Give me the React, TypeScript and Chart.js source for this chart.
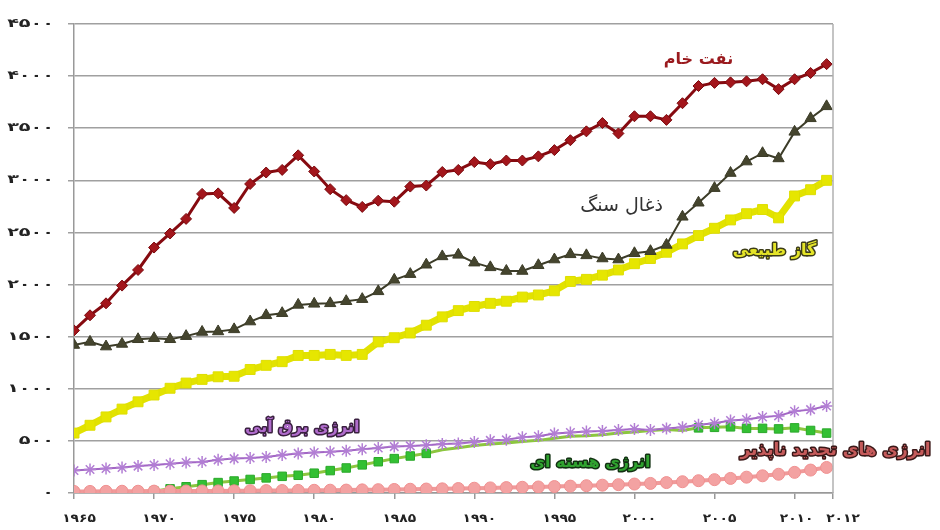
import React, { useEffect, useRef } from "react";
import { Chart, registerables } from "chart.js";

Chart.register(...registerables);

const years = [
  1965, 1966, 1967, 1968, 1969, 1970, 1971, 1972, 1973, 1974, 1975, 1976,
  1977, 1978, 1979, 1980, 1981, 1982, 1983, 1984, 1985, 1986, 1987, 1988,
  1989, 1990, 1991, 1992, 1993, 1994, 1995, 1996, 1997, 1998, 1999, 2000,
  2001, 2002, 2003, 2004, 2005, 2006, 2007, 2008, 2009, 2010, 2011, 2012,
];

const oil = [
  1560, 1705, 1820, 1990, 2140, 2355, 2490, 2630, 2870, 2875, 2735, 2965,
  3075, 3100, 3240, 3085, 2915, 2810, 2745, 2805, 2795, 2940, 2950, 3080,
  3100, 3175, 3155, 3190, 3190, 3230, 3290, 3385, 3470, 3550, 3450, 3615,
  3615, 3580, 3740, 3905, 3935, 3940, 3950, 3970, 3875, 3970, 4030, 4115,
];

const coal = [
  1420, 1450, 1405, 1430, 1475, 1485, 1475, 1505, 1545, 1550, 1570, 1645,
  1705, 1725, 1805, 1815, 1820, 1840, 1860, 1935, 2045, 2100, 2190, 2270,
  2285, 2210, 2165, 2130, 2130, 2185, 2240, 2290, 2280, 2250, 2240, 2300,
  2320, 2380, 2650, 2785, 2925, 3070, 3180, 3260, 3210, 3465, 3595, 3710,
];

const gas = [
  575, 650, 730, 805, 875, 940, 1005, 1055, 1090, 1115, 1120, 1185,
  1225, 1260, 1320, 1320, 1330, 1320, 1330, 1450, 1490, 1535, 1610, 1690,
  1750, 1790, 1820, 1840, 1880, 1900, 1940, 2030, 2050, 2090, 2140, 2200,
  2250, 2310, 2390, 2470, 2540, 2620, 2680, 2720, 2640, 2850, 2910, 3000,
];

const hydro = [
  215, 225, 235, 245, 258, 268, 280, 292, 298, 318, 330, 335,
  345, 365, 380, 388, 395, 405, 420, 432, 445, 452, 458, 470,
  475, 490, 505, 510, 535, 545, 570, 580, 590, 595, 605, 615,
  605, 620, 630, 655, 670, 695, 705, 730, 740, 785, 800, 835,
];

const nuclear = [
  6, 8, 9, 12, 14, 18, 40, 60, 80, 100, 115, 130,
  145, 160, 170, 190, 215, 240, 270, 300, 330, 355, 380, 415,
  435, 455, 470, 480, 495, 505, 525, 545, 550, 560, 575, 585,
  600, 610, 600, 625, 630, 635, 620, 620, 615, 625, 600, 575,
];

const renewables = [
  15, 15, 16, 17, 17, 18, 18, 19, 20, 20, 21, 22,
  23, 24, 25, 26, 27, 28, 30, 32, 34, 36, 38, 40,
  43, 46, 49, 52, 55, 58, 62, 66, 70, 75, 80, 86,
  92, 100, 108, 118, 128, 140, 152, 165, 180, 198, 220, 245,
];

// years in which the nuclear markers are hidden under the hydro line in the original
const nuclearHiddenFrom = 1988;
const nuclearHiddenTo = 2003;

const xTickYears = [1965, 1970, 1975, 1980, 1985, 1990, 1995, 2000, 2005, 2010, 2012];
const yMax = 4500;
const yStep = 500;

const labels = [
  { text: "نفت خام", x: 2004.0, y: 4160, fill: "#9a1a1e", stroke: null, size: 16, weight: "bold" },
  { text: "ذغال سنگ", x: 1999.2, y: 2755, fill: "#333333", stroke: null, size: 19, weight: "normal" },
  { text: "گاز طبیعی", x: 2008.75, y: 2325, fill: "#e4e428", stroke: "#3d3d18", size: 16, weight: "bold" },
  { text: "انرژی برق آبی", x: 1979.25, y: 625, fill: "#b06ccc", stroke: "#3a2040", size: 16, weight: "bold" },
  { text: "انرژی هسته ای", x: 1997.25, y: 290, fill: "#2fa22f", stroke: "#123012", size: 16, weight: "bold" },
  { text: "انرژی های تجدید ناپذیر", x: 2012.56, y: 405, fill: "#c45a5a", stroke: "#3a1818", size: 17, weight: "bold" },
];

const FA_DIGITS = "۰۱۲۳۴۵۶۷۸۹";
const toFa = (n: number) => String(n).replace(/[0-9]/g, (d) => FA_DIGITS[+d]);

const pts = (arr: number[]) => years.map((yr, i) => ({ x: yr, y: arr[i] }));

const labelPlugin = {
  id: "seriesLabels",
  afterDatasetsDraw(chart: any) {
    const { ctx, scales, chartArea } = chart;
    ctx.save();
    ctx.strokeStyle = "#b0b0b0";
    ctx.lineWidth = 1.5;
    ctx.beginPath();
    ctx.moveTo(chartArea.right, chartArea.top);
    ctx.lineTo(chartArea.right, chartArea.bottom);
    ctx.stroke();
    for (const l of labels) {
      const px = scales.x.getPixelForValue(l.x);
      const py = scales.y.getPixelForValue(l.y);
      ctx.font = `${l.weight} ${l.size}px "DejaVu Sans", sans-serif`;
      ctx.direction = "rtl";
      ctx.textAlign = "center";
      ctx.textBaseline = "middle";
      if (l.stroke) {
        ctx.lineJoin = "round";
        ctx.lineWidth = 3;
        ctx.strokeStyle = l.stroke;
        ctx.strokeText(l.text, px, py);
      }
      ctx.fillStyle = l.fill;
      ctx.fillText(l.text, px, py);
    }
    ctx.restore();
  },
  afterDraw(chart: any) {
    // tick labels, drawn horizontally widened like the original's spaced digits
    const { ctx, scales, chartArea } = chart;
    ctx.save();
    ctx.font = 'bold 12px "DejaVu Sans", sans-serif';
    ctx.fillStyle = "#222";
    ctx.textBaseline = "middle";
    ctx.direction = "ltr";
    for (const t of scales.y.ticks) {
      const py = scales.y.getPixelForValue(t.value);
      ctx.save();
      ctx.translate(chartArea.left - 20, py);
      ctx.scale(1.6, 1);
      ctx.textAlign = "right";
      ctx.fillText(toFa(t.value), 0, 0);
      ctx.restore();
    }
    const xt = scales.x.ticks;
    xt.forEach((t: any, i: number) => {
      const px = scales.x.getPixelForValue(t.value);
      const off = i === xt.length - 1 ? 10 : i === xt.length - 2 ? 2 : 5;
      ctx.save();
      ctx.translate(px + off, chartArea.bottom + 26);
      ctx.scale(1.15, 1);
      ctx.textAlign = "center";
      ctx.fillText(toFa(Math.round(t.value)), 0, 0);
      ctx.restore();
    });
    ctx.restore();
  },
};

export default function App() {
  const ref = useRef<HTMLCanvasElement | null>(null);
  useEffect(() => {
    if (!ref.current) return;
    const chart = new Chart(ref.current, {
      type: "line",
      data: {
        datasets: [
          {
            label: "oil",
            data: pts(oil),
            borderColor: "#860a10",
            backgroundColor: "#a3161c",
            pointBorderColor: "#7a0a0e",
            borderWidth: 3,
            pointStyle: "rectRot",
            pointRadius: 5.5,
            pointBorderWidth: 1,
          },
          {
            label: "coal",
            data: pts(coal),
            borderColor: "#3c3c28",
            backgroundColor: "#45452e",
            borderWidth: 2,
            pointStyle: "triangle",
            pointRadius: 6.5,
            pointBorderWidth: 1,
          },
          {
            label: "gas",
            data: pts(gas),
            borderColor: "#e2e200",
            backgroundColor: "#e6e600",
            pointBorderColor: "#dede00",
            borderWidth: 7,
            pointStyle: "rect",
            pointRadius: 7,
            pointBorderWidth: 1,
          },
          {
            label: "hydro",
            data: pts(hydro),
            borderColor: "#a266c4",
            backgroundColor: "#b888d8",
            pointBorderColor: "#b27ed4",
            borderWidth: 2,
            pointStyle: "star",
            pointRadius: 6,
            pointBorderWidth: 1.5,
          },
          {
            label: "renewables",
            data: pts(renewables),
            borderColor: "#f09a9a",
            backgroundColor: "#f3a2a2",
            pointBorderColor: "#f09090",
            borderWidth: 4,
            pointStyle: "circle",
            pointRadius: 6,
            pointBorderWidth: 1,
          },
          {
            label: "nuclear",
            data: pts(nuclear),
            borderColor: "#8cc63f",
            backgroundColor: "#33c033",
            pointBorderColor: "#2aa82a",
            borderWidth: 3,
            pointStyle: "rect",
            pointRadius: (c: any) => {
              const yr = years[c.dataIndex];
              return yr >= nuclearHiddenFrom && yr <= nuclearHiddenTo ? 0 : 6;
            },
            pointBorderWidth: 1,
          },
        ],
      },
      options: {
        animation: false,
        responsive: false,
        maintainAspectRatio: false,
        layout: { padding: { left: 0, right: 107, top: 24, bottom: 0 } },
        plugins: { legend: { display: false }, tooltip: { enabled: false } },
        scales: {
          x: {
            type: "linear",
            min: 1965,
            max: 2012.4,
            afterBuildTicks: (s: any) => {
              s.ticks = xTickYears.map((v, i) =>
                ({ value: i === xTickYears.length - 1 ? s.max : v })
              );
            },
            afterFit: (s: any) => {
              s.height = 37;
            },
            ticks: { display: false, autoSkip: false },
            grid: { drawOnChartArea: false, drawTicks: true, tickLength: 6, color: "#999", lineWidth: 1.5 },
            border: { color: "#999", width: 1.5 },
          },
          y: {
            min: 0,
            max: yMax,
            afterFit: (s: any) => {
              s.width = 74;
            },
            ticks: { display: false, stepSize: yStep },
            grid: { color: "#a0a0a0", lineWidth: 1.5, tickLength: 6 },
            border: { color: "#999", width: 1.5 },
          },
        },
      },
      plugins: [labelPlugin],
    });
    return () => chart.destroy();
  }, []);
  return (
    <div style={{ position: "absolute", left: 0, top: 0, width: 940, height: 530, background: "#fff" }}>
      <canvas ref={ref} width={940} height={530} style={{ width: 940, height: 530, display: "block" }} />
    </div>
  );
}
